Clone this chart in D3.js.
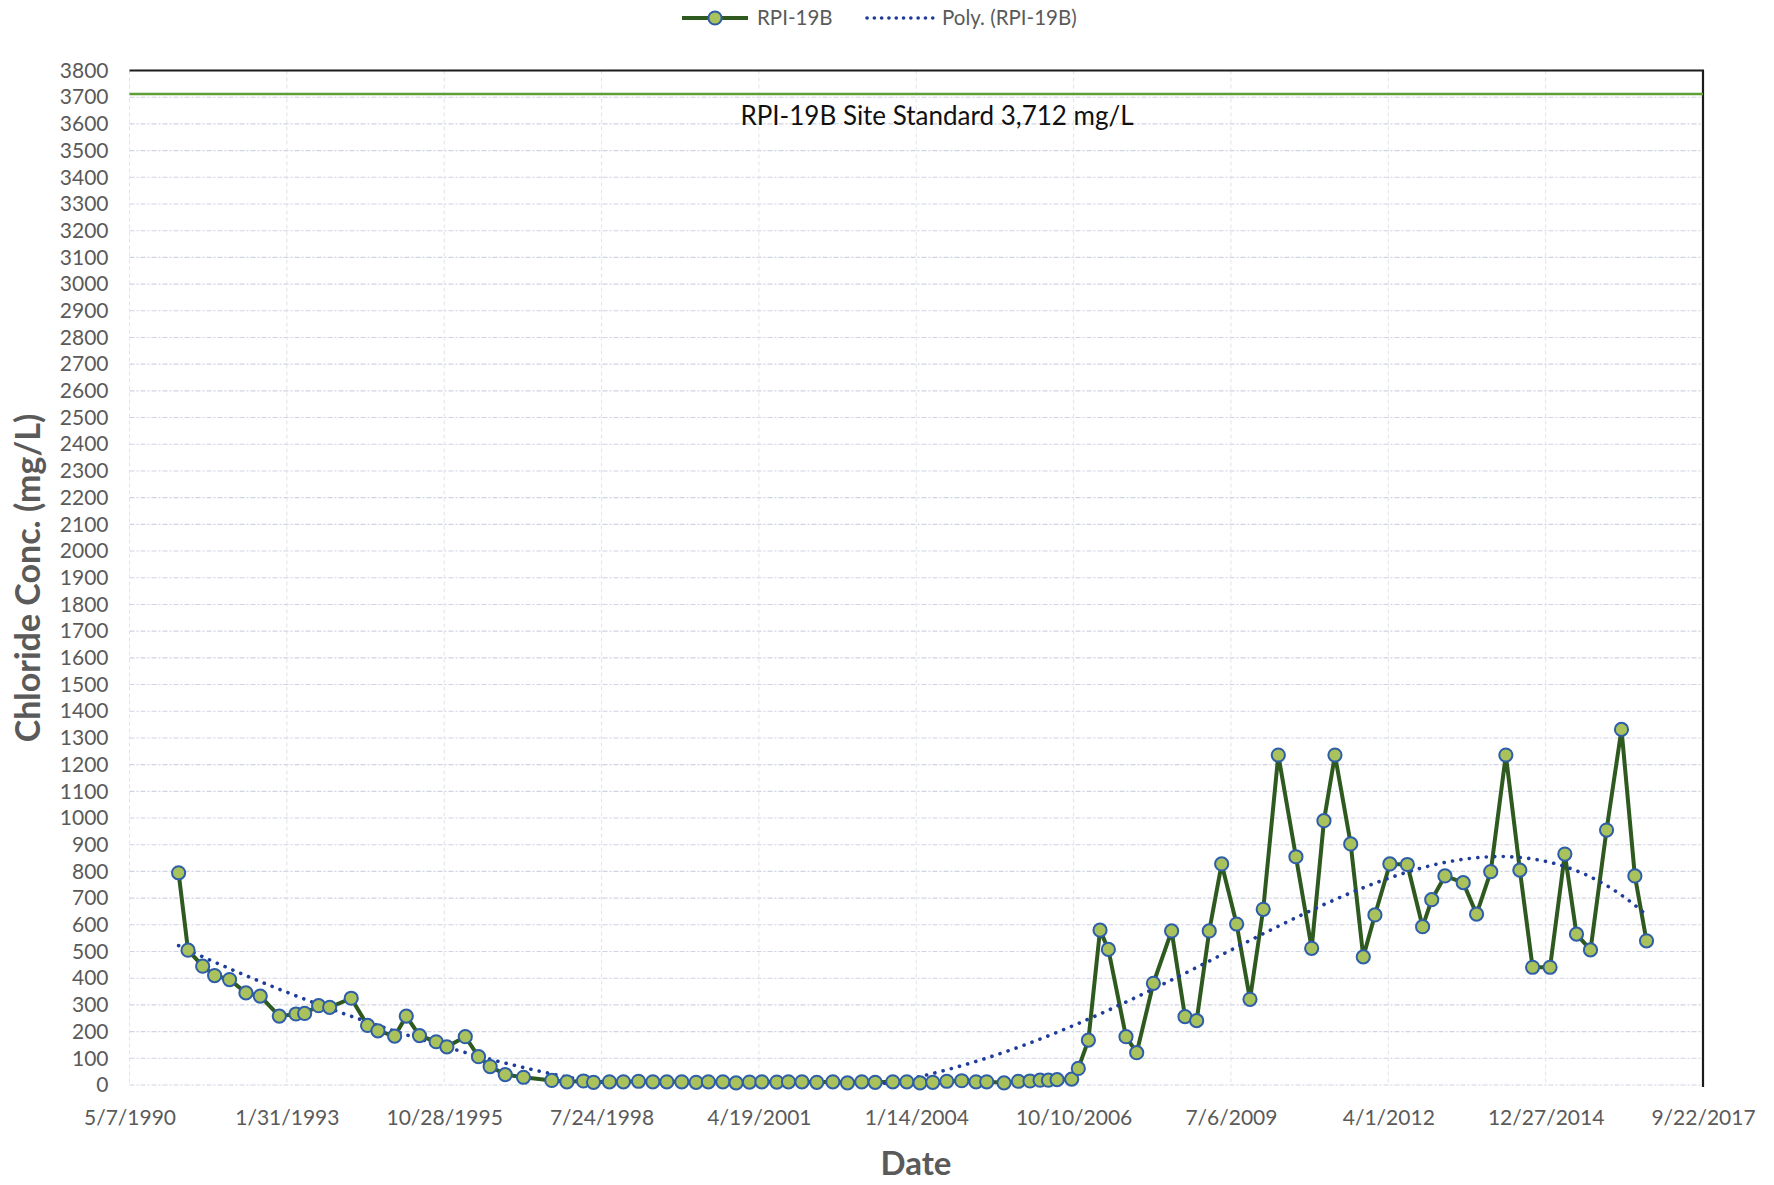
<!DOCTYPE html>
<html>
<head>
<meta charset="utf-8">
<script src="https://cdn.jsdelivr.net/npm/d3@7"></script>
<style>
  body { margin: 0; background: #fff; }
  text { font-family: Lato, "Open Sans", sans-serif; }
</style>
</head>
<body>
<svg id="chart" width="1774" height="1185"></svg>
<script>
// RPI-19B chloride sampling record
const sampleDates = [
  "1991-03-15","1991-05-14","1991-08-15","1991-10-30","1992-02-02","1992-05-16","1992-08-15","1992-12-14",
  "1993-03-30","1993-05-24","1993-08-21","1993-10-30","1994-03-16","1994-06-28","1994-09-02","1994-12-17",
  "1995-03-01","1995-05-24","1995-09-07","1995-11-14","1996-03-10","1996-06-02","1996-08-15","1996-11-19",
  "1997-03-15","1997-09-11","1997-12-16","1998-03-31","1998-06-03","1998-09-12","1998-12-10","1999-03-16",
  "1999-06-15","1999-09-12","1999-12-16","2000-03-16","2000-06-02","2000-09-02","2000-11-25","2001-02-18",
  "2001-05-08","2001-08-11","2001-10-24","2002-01-18","2002-04-22","2002-08-02","2002-11-03","2003-02-02",
  "2003-04-28","2003-08-18","2003-11-15","2004-02-07","2004-04-28","2004-07-26","2004-10-29","2005-01-28",
  "2005-04-06","2005-07-25","2005-10-24","2006-01-06","2006-03-11","2006-05-03","2006-06-27","2006-09-28",
  "2006-11-09","2007-01-12","2007-03-27","2007-05-19","2007-09-08","2007-11-15","2008-02-29","2008-06-24",
  "2008-09-17","2008-11-30","2009-02-18","2009-05-08","2009-08-11","2009-11-04","2010-01-27","2010-05-03",
  "2010-08-23","2010-12-01","2011-02-17","2011-04-28","2011-08-06","2011-10-25","2012-01-07","2012-04-11",
  "2012-07-31","2012-11-05","2013-01-02","2013-03-27","2013-07-21","2013-10-14","2014-01-12","2014-04-18",
  "2014-07-16","2014-10-05","2015-01-24","2015-04-28","2015-07-11","2015-10-08","2016-01-18","2016-04-22",
  "2016-07-16","2016-09-28"
];
const chlorideValues = [
  795, 505, 445, 410, 395, 345, 333, 258,
  266, 268, 297, 291, 325, 223, 203, 183,
  258, 185, 162, 143, 181, 106, 69, 39,
  29, 17, 12, 15, 10, 12, 12, 14,
  12, 12, 12, 10, 12, 12, 8, 11,
  12, 11, 12, 12, 10, 12, 8, 12,
  10, 12, 12, 8, 10, 14, 16, 12,
  12, 8, 14, 15, 18, 18, 20, 22,
  62, 168, 580, 508, 181, 121, 381, 577,
  256, 241, 577, 828, 603, 321, 658, 1236,
  855, 512, 990, 1236, 903, 480, 637, 828,
  826, 593, 694, 783, 758, 640, 799, 1236,
  805, 441, 441, 865, 565, 506, 955, 1332,
  783, 540
];

const xTickLabels = ["5/7/1990","1/31/1993","10/28/1995","7/24/1998","4/19/2001","1/14/2004","10/10/2006","7/6/2009","4/1/2012","12/27/2014","9/22/2017"];
const yTickValues = d3.range(0, 3801, 100);
const siteStandard = 3712;
const seriesName = "RPI-19B";
const trendName = "Poly. (RPI-19B)";
const standardLabel = "RPI-19B Site Standard 3,712 mg/L";
const trendOrder = 5;

const parseIso = d3.utcParse("%Y-%m-%d");
const parseTick = d3.utcParse("%m/%d/%Y");
const data = sampleDates.map((d, i) => ({ date: parseIso(d), value: chlorideValues[i] }));
const tickDates = xTickLabels.map(s => parseTick(s));

const svg = d3.select("#chart");
const plot = { left: 129.5, right: 1703, top: 70.5, bottom: 1085 };

const x = d3.scaleUtc()
  .domain([tickDates[0], tickDates[tickDates.length - 1]])
  .range([plot.left, plot.right]);
const y = d3.scaleLinear().domain([0, 3800]).range([plot.bottom, plot.top]);

svg.append("clipPath").attr("id", "plot-clip")
  .append("rect")
  .attr("x", plot.left).attr("y", plot.top)
  .attr("width", plot.right - plot.left).attr("height", plot.bottom - plot.top);

// horizontal gridlines
svg.append("g")
  .selectAll("line")
  .data(yTickValues.filter(v => v < 3800))
  .join("line")
  .attr("x1", plot.left).attr("x2", plot.right)
  .attr("y1", d => y(d)).attr("y2", d => y(d))
  .attr("stroke", "#cfd3e2")
  .attr("stroke-width", 1.1)
  .attr("stroke-dasharray", "5 2 2 2");

// vertical gridlines at the date ticks
svg.append("g")
  .selectAll("line")
  .data(tickDates)
  .join("line")
  .attr("x1", d => x(d)).attr("x2", d => x(d))
  .attr("y1", plot.top).attr("y2", plot.bottom)
  .attr("stroke", "#e0e3ec")
  .attr("stroke-width", 1)
  .attr("stroke-dasharray", "4 3");

// plot frame: dark top and right edges
svg.append("line")
  .attr("x1", plot.left).attr("x2", plot.right + 1)
  .attr("y1", plot.top).attr("y2", plot.top)
  .attr("stroke", "#1b1b1b").attr("stroke-width", 2.2);
svg.append("line")
  .attr("x1", plot.right).attr("x2", plot.right)
  .attr("y1", plot.top).attr("y2", plot.bottom + 2)
  .attr("stroke", "#1b1b1b").attr("stroke-width", 2.2);

// y axis labels
const yAxis = d3.axisLeft(y).tickValues(yTickValues).tickSize(0).tickPadding(21)
  .tickFormat(d3.format("d"));
const gy = svg.append("g").attr("transform", `translate(${plot.left},0)`).call(yAxis);
gy.select(".domain").remove();
gy.selectAll("text")
  .attr("fill", "#5a5a5a")
  .style("font-size", "21px")
  .style("font-family", "Lato, sans-serif");

// x axis labels
const xAxis = d3.axisBottom(x).tickValues(tickDates).tickSize(0).tickPadding(0)
  .tickFormat((d, i) => xTickLabels[i]);
const gx = svg.append("g").attr("transform", `translate(0,${plot.bottom})`).call(xAxis);
gx.select(".domain").remove();
gx.selectAll("text")
  .attr("fill", "#5a5a5a")
  .attr("dy", "0")
  .attr("y", 40)
  .style("font-size", "21px")
  .style("font-family", "Lato, sans-serif");

// site standard line and label
svg.append("line")
  .attr("x1", plot.left).attr("x2", plot.right)
  .attr("y1", y(siteStandard)).attr("y2", y(siteStandard))
  .attr("stroke", "#5f9d36").attr("stroke-width", 2.6);
svg.append("text")
  .attr("x", 937).attr("y", 125)
  .attr("text-anchor", "middle")
  .attr("fill", "#111")
  .style("font-size", "26px")
  .text(standardLabel);

// least-squares polynomial trendline
function polyFit(xs, ys, order) {
  const n = order + 1;
  const A = Array.from({ length: n }, () => new Array(n).fill(0));
  const b = new Array(n).fill(0);
  xs.forEach((xv, i) => {
    const p = [];
    for (let k = 0; k < n; k++) p.push(Math.pow(xv, k));
    for (let r = 0; r < n; r++) {
      b[r] += p[r] * ys[i];
      for (let c = 0; c < n; c++) A[r][c] += p[r] * p[c];
    }
  });
  for (let col = 0; col < n; col++) {
    let piv = col;
    for (let r = col + 1; r < n; r++) if (Math.abs(A[r][col]) > Math.abs(A[piv][col])) piv = r;
    [A[col], A[piv]] = [A[piv], A[col]];
    [b[col], b[piv]] = [b[piv], b[col]];
    for (let r = col + 1; r < n; r++) {
      const f = A[r][col] / A[col][col];
      for (let c = col; c < n; c++) A[r][c] -= f * A[col][c];
      b[r] -= f * b[col];
    }
  }
  const coef = new Array(n).fill(0);
  for (let r = n - 1; r >= 0; r--) {
    let s = b[r];
    for (let c = r + 1; c < n; c++) s -= A[r][c] * coef[c];
    coef[r] = s / A[r][r];
  }
  return coef;
}
const t0 = +data[0].date, t1 = +data[data.length - 1].date;
const mid = (t0 + t1) / 2, half = (t1 - t0) / 2;
const norm = t => (t - mid) / half;
const coef = polyFit(data.map(d => norm(+d.date)), data.map(d => d.value), trendOrder);
const evalPoly = t => coef.reduce((s, c, k) => s + c * Math.pow(t, k), 0);
const trendPts = d3.range(0, 301).map(i => {
  const t = t0 + (t1 - t0) * i / 300;
  return { date: new Date(t), value: evalPoly(norm(t)) };
});

const line = d3.line().x(d => x(d.date)).y(d => y(d.value));

// measured series
svg.append("path")
  .datum(data)
  .attr("d", line)
  .attr("fill", "none")
  .attr("stroke", "#2f5a1f")
  .attr("stroke-width", 4)
  .attr("stroke-linejoin", "round");

svg.append("path")
  .datum(trendPts)
  .attr("d", line)
  .attr("clip-path", "url(#plot-clip)")
  .attr("fill", "none")
  .attr("stroke", "#1f3c9a")
  .attr("stroke-width", 3.6)
  .attr("stroke-linecap", "round")
  .attr("stroke-dasharray", "0.1 8.4");

svg.append("g")
  .selectAll("circle")
  .data(data)
  .join("circle")
  .attr("cx", d => x(d.date))
  .attr("cy", d => y(d.value))
  .attr("r", 6.6)
  .attr("fill", "#a9c25c")
  .attr("stroke", "#2e5ea8")
  .attr("stroke-width", 2);

// axis titles
svg.append("text")
  .attr("transform", `translate(40,${578}) rotate(-90)`)
  .attr("text-anchor", "middle")
  .attr("fill", "#5a5a5a")
  .style("font-size", "34px")
  .style("font-weight", "bold")
  .text("Chloride Conc. (mg/L)");
svg.append("text")
  .attr("x", 916).attr("y", 1175)
  .attr("text-anchor", "middle")
  .attr("fill", "#5a5a5a")
  .style("font-size", "33px")
  .style("font-weight", "bold")
  .text("Date");

// legend
const lg = svg.append("g").attr("transform", "translate(0,18)");
lg.append("line").attr("x1", 682).attr("x2", 748).attr("y1", 0).attr("y2", 0)
  .attr("stroke", "#2f5a1f").attr("stroke-width", 4);
lg.append("circle").attr("cx", 715).attr("cy", 0).attr("r", 6.6)
  .attr("fill", "#a9c25c").attr("stroke", "#2e5ea8").attr("stroke-width", 2);
lg.append("text").attr("x", 757).attr("y", 7).attr("fill", "#5a5a5a")
  .style("font-size", "20.5px").text(seriesName);
lg.append("line").attr("x1", 867).attr("x2", 933).attr("y1", 0).attr("y2", 0)
  .attr("stroke", "#1f3c9a").attr("stroke-width", 3.6)
  .attr("stroke-linecap", "round").attr("stroke-dasharray", "0.1 7.2");
lg.append("text").attr("x", 942).attr("y", 7).attr("fill", "#5a5a5a")
  .style("font-size", "20.5px").text(trendName);
</script>
</body>
</html>
